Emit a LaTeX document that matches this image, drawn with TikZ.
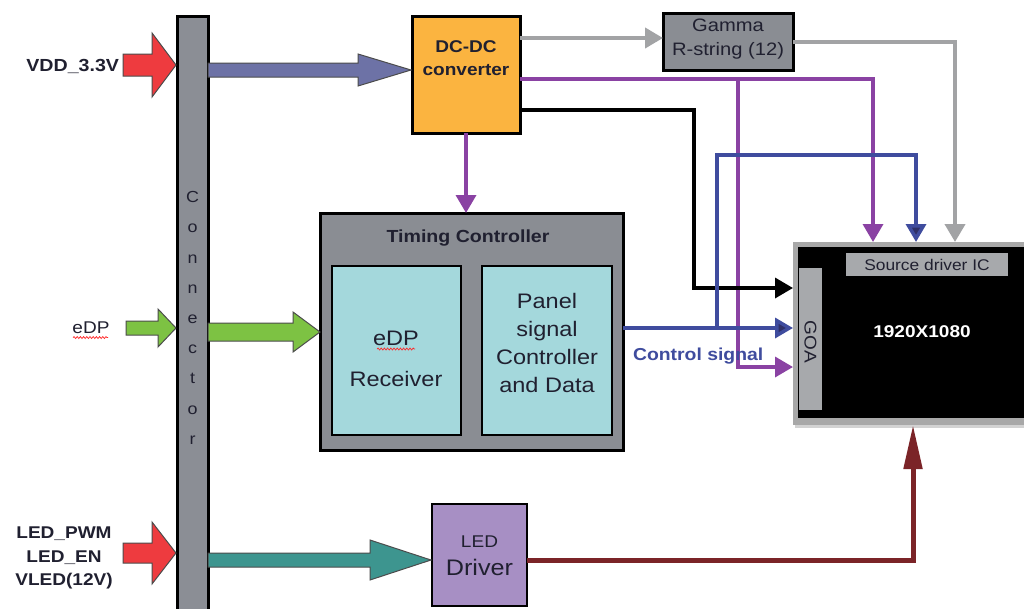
\documentclass[tikz,border=0pt]{standalone}
\usepackage{fontspec}
\setmainfont{Liberation Sans}[FakeStretch=1.12]
\usetikzlibrary{arrows.meta,shadows,decorations.pathmorphing}
\definecolor{conngray}{HTML}{8B8E95}
\definecolor{boxgray}{HTML}{8A8D93}
\definecolor{dcorange}{HTML}{FBB440}
\definecolor{cyanbox}{HTML}{A4D8DC}
\definecolor{ledpurple}{HTML}{A78FC4}
\definecolor{dispgray}{HTML}{A8A8A8}
\definecolor{srcgray}{HTML}{A7A9AC}
\definecolor{fatred}{HTML}{EE3B3F}
\definecolor{fatgreen}{HTML}{7DC243}
\definecolor{fatslate}{HTML}{6D72A6}
\definecolor{fatteal}{HTML}{3D958F}
\definecolor{wpurple}{HTML}{8A42A3}
\definecolor{wnavy}{HTML}{3F4C9E}
\definecolor{wnavyhead}{HTML}{2F3068}
\definecolor{wgray}{HTML}{A2A3A5}
\definecolor{wdarkred}{HTML}{7B2428}
\definecolor{txtdark}{HTML}{202030}
\newcommand\fatarr[7]{%
  \draw[fill=#1,draw=black!70,line width=1pt,line join=miter]
    (#2,{#5-#6}) -- (#3,{#5-#6}) -- (#3,{#5-#7}) -- (#4,#5) -- (#3,{#5+#7})
    -- (#3,{#5+#6}) -- (#2,{#5+#6}) -- cycle;}
\newcommand\fs[2]{\fontsize{#1}{#2}\selectfont}
\tikzset{
  blockbox/.style={rectangle,draw=black,line width=3pt,inner sep=0pt,outer sep=0pt},
  innerbox/.style={rectangle,draw=black,line width=1.5pt,fill=cyanbox,inner sep=0pt,outer sep=0pt},
  plain/.style={rectangle,inner sep=0pt,outer sep=0pt},
  wire/.style={line width=3.5pt,line join=miter},
  head/.style={-{Triangle[length=18pt,width=20pt]}},
  navyhead/.style={-{Triangle[length=18pt,width=20pt,fill=wnavyhead]}},
  squig/.style={red!85,line width=0.7pt,decorate,decoration={snake,amplitude=1pt,segment length=3.2pt}},
}
\begin{document}
\begin{tikzpicture}[x=1pt,y=-1pt]
\useasboundingbox[fill=white] (0,0) rectangle (1024,608);

% connector bar
\node[blockbox,fill=conngray,minimum width=31pt,minimum height=600pt] (conn) at (192.5,316) {};
\node[plain,text=txtdark,align=center,font=\fs{16}{30.2}] (conntext) at (192.5,318) {C\\o\\n\\n\\e\\c\\t\\o\\r};

% blocks
\node[blockbox,fill=dcorange,minimum width=108pt,minimum height=117pt] (dcdc) at (466,74.5) {};
\node[plain,align=center,font=\bfseries\fs{17}{23.5},text=txtdark] (dcdctxt) at (466,58) {DC-DC\\converter};
\node[blockbox,fill=boxgray,minimum width=130pt,minimum height=57pt] (gamma) at (728,41.5) {};
\node[plain,align=center,font=\fs{18}{24},text=txtdark] (gammatxt) at (728,39) {Gamma\\R-string (12)};

\node[blockbox,fill=boxgray,minimum width=303pt,minimum height=237pt,
  drop shadow={shadow xshift=2pt,shadow yshift=-2pt,fill=black!45}] (tcon) at (471.5,331.5) {};
\node[plain,font=\bfseries\fs{17.5}{20},text=txtdark] (tcontxt) at (468,238) {Timing Controller};
\node[innerbox,minimum width=129pt,minimum height=169pt] (edp) at (396.5,350.5) {};
\node[plain,align=center,font=\fs{21}{41},text=txtdark] (edptxt) at (396,359) {eDP\\Receiver};
\node[innerbox,minimum width=130pt,minimum height=169pt] (panel) at (547,350.5) {};
\node[plain,align=center,font=\fs{21}{28},text=txtdark] (paneltxt) at (547,343) {Panel\\signal\\Controller\\and Data};

\node[plain,fill=dispgray,minimum width=247pt,minimum height=183pt,
  drop shadow={shadow xshift=1.5pt,shadow yshift=-2.5pt,fill=black!35}] (disp) at (916.5,333.5) {};
\node[plain,fill=black,minimum width=242pt,minimum height=171pt] (dispin) at (919,332.5) {};
\node[plain,fill=srcgray,minimum width=162pt,minimum height=23pt,font=\fs{15.5}{17},text=txtdark] (src) at (927,264.5) {Source driver IC};
\node[plain,fill=srcgray,minimum width=23pt,minimum height=142pt] (goa) at (810.5,339) {};
\node[plain,rotate=-90,font=\fs{17}{18},text=txtdark] (goatxt) at (810.5,342) {GOA};
\node[plain,font=\bfseries\fs{17}{19},text=white] (res) at (922,332) {1920X1080};

\node[plain,fill=ledpurple,draw=black,line width=2.5pt,minimum width=95pt,minimum height=102pt] (led) at (479.5,555) {};
\node[plain,font=\fs{17}{20},text=txtdark] (ledtxt1) at (479.5,542) {LED};
\node[plain,font=\fs{22.5}{24},text=txtdark] (ledtxt2) at (479.5,567) {Driver};

% left labels
\node[plain,anchor=east,font=\bfseries\fs{17.5}{20},text=txtdark] (vdd) at (119,66) {VDD\_3.3V};
\node[plain,font=\fs{17}{20},text=txtdark] (edplbl) at (91,328) {eDP};
\node[plain,align=center,font=\bfseries\fs{17}{23.5},text=txtdark] (ledlbl) at (64,558) {LED\_PWM\\LED\_EN\\VLED(12V)};
\draw[squig] (73,337.5) -- (108,337.5);
\draw[squig] (377,349) -- (415,349);

% fat arrows
\fatarr{fatred}{123}{152}{176}{65}{11}{32}
\fatarr{fatslate}{208}{358}{411}{70}{7}{16}
\fatarr{fatgreen}{126}{158}{176}{328}{7}{19}
\fatarr{fatgreen}{208}{293}{320}{332}{9}{20}
\fatarr{fatred}{123}{152}{176}{553}{10}{31}
\fatarr{fatteal}{208}{370}{431}{560}{7}{20}

% wires
\draw[wire,wgray,line width=4pt,head] (dcdc.east |- 0,38) -- (gamma.west |- 0,38);
\draw[wire,wgray,line width=4pt,head] (gamma.east |- 0,42) -| (disp.north -| 955,0);
\draw[wire,wpurple,head] (dcdc.east |- 0,79) -| (disp.north -| 873,0);
\draw[wire,wpurple,head] (738,79) -- (738,367) -- (disp.west |- 0,367);
\draw[wire,wpurple,head] (dcdc.south) -- (dcdc.south |- tcon.north);
\draw[wire,black,head] (dcdc.east |- 0,110) -| (694,288) -- (disp.west |- 0,288);
\draw[wire,wnavy,navyhead] (tcon.east |- 0,328) -- (disp.west |- 0,328);
\draw[wire,wnavy,navyhead] (717,328) |- (916,155) -- (disp.north -| 916,0);
\draw[wire,wdarkred,line width=5pt,-{Triangle[length=44pt,width=18pt]}] (led.east |- 0,560) -| (disp.south -| 913,0);

\node[plain,anchor=west,font=\bfseries\fs{17.3}{19},text=wnavy] (ctrl) at (633,356) {Control signal};
\end{tikzpicture}
\end{document}
